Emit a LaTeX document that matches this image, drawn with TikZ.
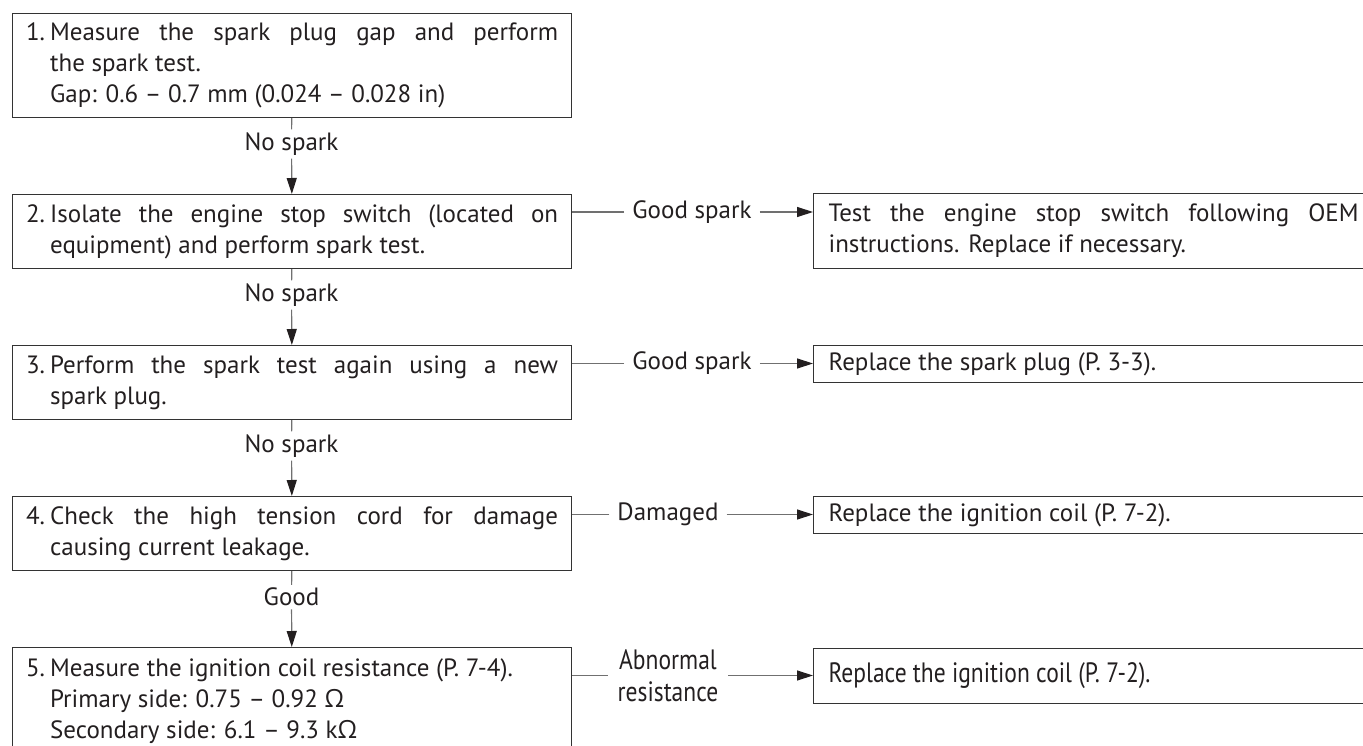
\documentclass[tikz,border=0pt]{standalone}
\usepackage{fontspec}
\setmainfont{PT Sans}
\newfontfamily\narrowfont[FakeStretch=0.84]{PT Sans}
\newfontfamily\omegafont{Open Sans}
\usetikzlibrary{arrows.meta}

\definecolor{boxline}{HTML}{333333}
\definecolor{linkline}{HTML}{707070}
\definecolor{ink}{HTML}{231F20}

% numbered step text with hanging indent
\newcommand{\stepitem}[2]{\parindent=0pt\leftskip=24pt\noindent\hspace*{-24pt}\makebox[24pt][l]{#1}#2\par}

\begin{document}
\begin{tikzpicture}[x=1pt, y=-1pt, font=\fontsize{25}{31}\selectfont,
    stepbox/.style={draw=boxline, line width=1.2pt, anchor=north west, text width=532pt,
        minimum width=559pt, inner xsep=12pt, inner ysep=0pt, align=justify, text=ink},
    fixbox/.style={draw=boxline, line width=1.2pt, anchor=north west, text width=530pt,
        inner xsep=15pt, inner ysep=0pt, align=justify, text=ink},
    answer/.style={fill=white, inner xsep=8pt, inner ysep=3pt, text=ink},
    link/.style={draw=linkline, line width=1.2pt},
    flow/.style={link, -{Triangle[length=16pt, width=10pt, color=ink]}}]
    \useasboundingbox (0,0) rectangle (1363,746);
    \clip (0,0) rectangle (1363,746);

    % steps
    \node[stepbox, minimum height=104pt] (s1) at (12,13)
        {\stepitem{1.}{Measure the spark plug gap and perform\linebreak the spark test.\par Gap: 0.6 – 0.7 mm (0.024 – 0.028 in)}};
    \node[stepbox, minimum height=74pt] (s2) at (12,194)
        {\stepitem{2.}{Isolate the engine stop switch (located on\linebreak equipment) and perform spark test.}};
    \node[stepbox, minimum height=74pt] (s3) at (12,345)
        {\stepitem{3.}{Perform the spark test again using a new\linebreak spark plug.}};
    \node[stepbox, minimum height=74pt] (s4) at (12,496)
        {\stepitem{4.}{Check the high tension cord for damage\linebreak causing current leakage.}};
    \node[stepbox, minimum height=108pt] (s5) at (12,647)
        {\stepitem{5.}{Measure the ignition coil resistance (P. 7-4).\par Primary side: 0.75 – 0.92 {\omegafont Ω}\par Secondary side: 6.1 – 9.3 k{\omegafont Ω}}};

    % fixes
    \node[fixbox, minimum height=75pt] (r2) at (813,193)
        {Test the engine stop switch following OEM\linebreak instructions. Replace if necessary.};
    \node[fixbox, minimum height=37pt] (r3) at (813,345) {Replace the spark plug (P. 3-3).};
    \node[fixbox, minimum height=37pt] (r4) at (813,496) {Replace the ignition coil (P. 7-2).};
    \node[fixbox, minimum height=55pt, font=\fontsize{28}{31}\selectfont\narrowfont] (r5) at (813,648)
        {Replace the ignition coil (P. 7-2).};

    % downward results
    \node[answer] (a1) at (291.5,144) {No spark};
    \node[answer] (a2) at (291.5,295) {No spark};
    \node[answer] (a3) at (291.5,446) {No spark};
    \node[answer] (a4) at (291.5,597) {Good};
    \draw[link] (s1) -- (a1);
    \draw[flow] (a1) -- (s2);
    \draw[link] (s2) -- (a2);
    \draw[flow] (a2) -- (s3);
    \draw[link] (s3) -- (a3);
    \draw[flow] (a3) -- (s4);
    \draw[link] (s4) -- (a4);
    \draw[flow] (a4) -- (s5);

    % sideways results
    \node[answer] (g2) at (692,212) {Good spark};
    \node[answer] (g3) at (692,363.5) {Good spark};
    \node[answer] (g4) at (668,514.5) {Damaged};
    \node[answer, align=center, inner xsep=10pt, font=\fontsize{28}{32}\selectfont\narrowfont] (g5) at (668,675.5) {Abnormal\\resistance};
    \draw[link] (g2) -- (g2 -| s2.east);
    \draw[flow] (g2) -- (g2 -| r2.west);
    \draw[link] (g3) -- (g3 -| s3.east);
    \draw[flow] (g3) -- (g3 -| r3.west);
    \draw[link] (g4) -- (g4 -| s4.east);
    \draw[flow] (g4) -- (g4 -| r4.west);
    \draw[link] (g5) -- (g5 -| s5.east);
    \draw[flow] (g5) -- (g5 -| r5.west);
\end{tikzpicture}
\end{document}
